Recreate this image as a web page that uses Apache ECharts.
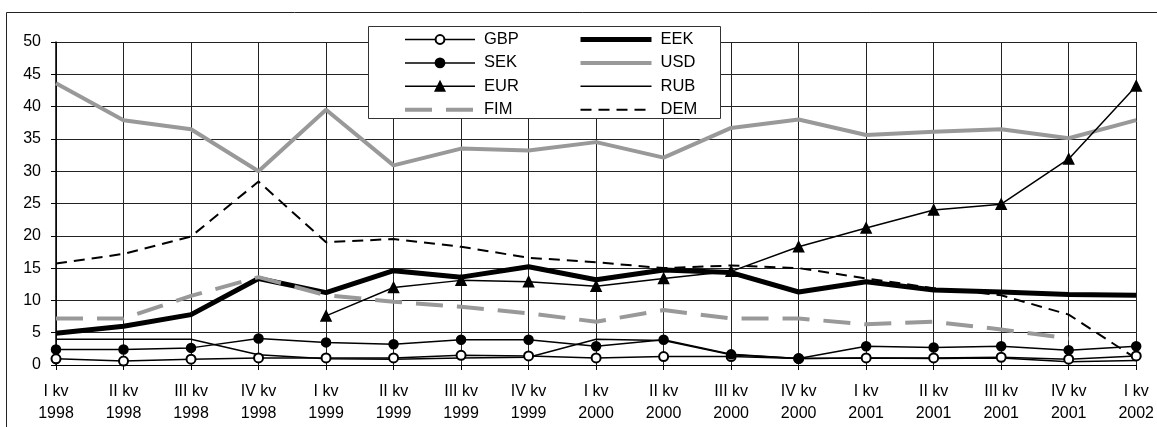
<!DOCTYPE html>
<html>
<head>
<meta charset="utf-8">
<script src="https://cdn.jsdelivr.net/npm/echarts@6/dist/echarts.min.js"></script>
<style>
html,body{margin:0;padding:0;background:#fff;}
#c{width:1157px;height:427px;}
</style>
</head>
<body>
<div id="c"></div>
<script>
const categories = ['I kv\n1998','II kv\n1998','III kv\n1998','IV kv\n1998',
  'I kv\n1999','II kv\n1999','III kv\n1999','IV kv\n1999',
  'I kv\n2000','II kv\n2000','III kv\n2000','IV kv\n2000',
  'I kv\n2001','II kv\n2001','III kv\n2001','IV kv\n2001','I kv\n2002'];
const yTicks = [0,5,10,15,20,25,30,35,40,45,50];

const GBP = [0.95,0.6,0.9,1.1,1.1,1.1,1.5,1.4,1.1,1.3,1.3,1.0,1.1,1.1,1.2,0.9,1.4];
const SEK = [2.4,2.4,2.65,4.1,3.5,3.2,3.9,3.9,2.9,3.9,1.65,1.0,2.9,2.7,2.9,2.3,2.9];
const EUR = [null,null,null,null,7.6,12.0,13.1,12.9,12.2,13.4,14.5,18.3,21.2,24.0,24.9,31.9,43.2];
const FIM = [7.2,7.2,10.7,13.6,10.8,9.8,9.0,8.0,6.7,8.5,7.2,7.2,6.3,6.7,5.5,4.1,null];
const EEK = [4.9,6.0,7.8,13.4,11.2,14.6,13.6,15.2,13.2,14.7,14.3,11.3,12.9,11.6,11.3,10.9,10.8];
const USD = [43.6,37.9,36.5,30.0,39.5,30.9,33.5,33.2,34.5,32.1,36.7,38.0,35.6,36.1,36.5,35.1,37.9];
const RUB = [4.0,4.0,4.0,1.6,0.95,0.9,1.1,1.2,4.0,3.8,1.6,1.0,1.1,1.0,1.1,0.5,0.7];
const DEM = [15.7,17.2,19.9,28.4,19.0,19.5,18.3,16.6,15.9,15.0,15.4,15.0,13.4,11.9,10.8,7.8,1.0];

const FONT = 'Liberation Sans';
const GRAY = '#999999';

const styles = {
  GBP: {color:'#000', width:1.5, type:'solid', symbol:'emptyCircle', size:9, z:5},
  SEK: {color:'#000', width:1.5, type:'solid', symbol:'circle', size:9, z:5},
  EUR: {color:'#000', width:1.5, type:'solid', symbol:'triangle', size:10, z:5},
  FIM: {color:GRAY, width:4, type:[27,14], symbol:'none', size:0, z:4},
  EEK: {color:'#000', width:5, type:'solid', symbol:'none', size:0, z:3},
  USD: {color:GRAY, width:4, type:'solid', symbol:'none', size:0, z:3},
  RUB: {color:'#000', width:1.5, type:'solid', symbol:'none', size:0, z:3},
  DEM: {color:'#000', width:2, type:[11,7], symbol:'none', size:0, z:4}
};
const dataMap = {GBP, SEK, EUR, FIM, EEK, USD, RUB, DEM};
const leftNames = ['GBP','SEK','EUR','FIM'];
const rightNames = ['EEK','USD','RUB','DEM'];

const series = ['EEK','USD','RUB','DEM','GBP','SEK','EUR','FIM'].map(n => ({
  name: n,
  type: 'line',
  data: dataMap[n],
  z: styles[n].z,
  symbol: styles[n].symbol,
  symbolSize: styles[n].size,
  showSymbol: styles[n].symbol !== 'none',
  connectNulls: false,
  lineStyle: {color: styles[n].color, width: styles[n].width, type: styles[n].type},
  itemStyle: {color: styles[n].color, borderColor: styles[n].color, borderWidth: 1.5},
  emphasis: {disabled: true}
}));

function legendItems(names){
  return names.map(n => {
    const it = {
      name: n,
      lineStyle: {color: styles[n].color, width: styles[n].width, type: styles[n].type, opacity: 1}
    };
    if (styles[n].symbol === 'none') {
      it.itemStyle = {color: 'rgba(0,0,0,0)', borderColor: 'rgba(0,0,0,0)', borderWidth: 0};
    }
    return it;
  });
}
function makeLegend(names, left, width){
  return {
    data: legendItems(names),
    orient: 'vertical',
    left: left,
    top: 31,
    itemWidth: width,
    itemHeight: 11,
    itemGap: 6.4,
    selectedMode: false,
    z: 20,
    padding: 0,
    textStyle: {fontFamily: FONT, fontSize: 16.5, color: '#000', lineHeight: 16, padding: [0,0,0,4]}
  };
}

const chart = echarts.init(document.getElementById('c'), null, {renderer:'canvas'});
chart.setOption({
  animation: false,
  backgroundColor: '#fff',
  grid: {left: 56, right: 12, top: 42, bottom: 62, containLabel: false},
  legend: [makeLegend(leftNames, 403, 70), makeLegend(rightNames, 578, 71)],
  graphic: [
    {type:'rect', z: -1, silent:true, shape:{x:6.5, y:12.5, width:1200, height:450},
     style:{fill:'none', stroke:'#222', lineWidth:1}},
    {type:'rect', z: 15, silent:true, shape:{x:368.5, y:26.5, width:352, height:92},
     style:{fill:'#fff', stroke:'#333', lineWidth:1}}
  ],
  xAxis: {
    type: 'category',
    data: categories,
    boundaryGap: false,
    axisLine: {show: true, lineStyle: {color:'#000', width:1}},
    axisTick: {show: true, length: 5, inside: false, lineStyle: {color:'#000'}},
    axisLabel: {fontFamily: FONT, fontSize: 16, color: '#000', lineHeight: 22, margin: 16, interval: 0},
    splitLine: {show: true, lineStyle: {color:'#222', width:1}}
  },
  yAxis: {
    type: 'value',
    min: yTicks[0],
    max: yTicks[yTicks.length-1],
    interval: 5,
    axisLine: {show: true, lineStyle: {color:'#000', width:1.5}},
    axisTick: {show: true, length: 5, lineStyle: {color:'#000'}},
    axisLabel: {fontFamily: FONT, fontSize: 16, color: '#000', margin: 15},
    splitLine: {show: true, lineStyle: {color:'#222', width:1}}
  },
  series: series
});
</script>
</body>
</html>
